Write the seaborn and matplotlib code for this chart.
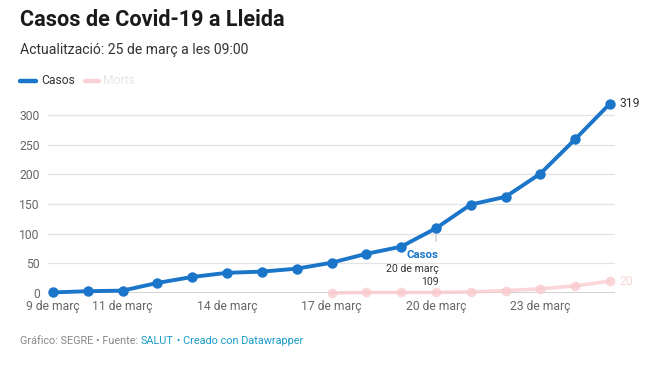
import matplotlib
matplotlib.use("Agg")
import matplotlib.pyplot as plt
import seaborn as sns
import pandas as pd
import numpy as np

days = list(range(9, 26))
casos = [1, 3, 4, 17, 27, 34, 36, 41, 51, 66, 78, 109, 149, 162, 201, 259, 319]
morts_days = list(range(17, 26))
morts = [0, 1, 1, 1, 2, 4, 7, 12, 20]
tick_days = [9, 11, 14, 17, 20, 23]
tick_labels = [f"{d} de març" for d in tick_days]
yticks = [0, 50, 100, 150, 200, 250, 300]

BLUE = "#1b75c9"
PINK = "#f9c9cd"

sns.set_theme(style="white")
plt.rcParams['font.family'] = ['Roboto', 'DejaVu Sans']

df_c = pd.DataFrame({"day": days, "value": casos, "serie": "Casos"})
df_m = pd.DataFrame({"day": morts_days, "value": morts, "serie": "Morts"})

fig = plt.figure(figsize=(6.64, 3.87), dpi=100)
ax = fig.add_axes([48/664, 1-293/387, (615-48)/664, (293-103)/387])

sns.lineplot(data=df_m, x="day", y="value", color=PINK, alpha=0.75, linewidth=2.6,
             marker="o", markersize=7, markeredgewidth=0, ax=ax, clip_on=False, zorder=3)
sns.lineplot(data=df_c, x="day", y="value", color=BLUE, linewidth=2.8,
             marker="o", markersize=7.5, markeredgewidth=0, ax=ax, clip_on=False, zorder=4)

ax.set_xlim(9 - 5/34.8, 25 + 5/34.8)
ax.set_ylim(0, 320)
ax.set_yticks(yticks)
ax.set_yticklabels([str(v) for v in yticks])
ax.set_xticks(tick_days)
ax.set_xticklabels(tick_labels)
ax.tick_params(axis="both", length=0, labelsize=8.7, labelcolor="#666666")
ax.tick_params(axis="y", pad=6)
ax.tick_params(axis="x", pad=5)
ax.set_xlabel("")
ax.set_ylabel("")
for s in ["top", "right", "left", "bottom"]:
    ax.spines[s].set_visible(False)
ax.grid(axis="y", color="#e3e3e3", linewidth=0.9)
ax.set_axisbelow(True)
ax.axhline(0, color="#333333", linewidth=1, zorder=2)
if ax.get_legend():
    ax.get_legend().remove()

# end labels
ax.annotate(str(casos[-1]), (days[-1], casos[-1]), xytext=(7, 0), textcoords="offset points",
            va="center", ha="left", fontsize=8.7, color="#333333")
ax.annotate(str(morts[-1]), (morts_days[-1], morts[-1]), xytext=(7, 0), textcoords="offset points",
            va="center", ha="left", fontsize=8.7, color="#f4d6d8")

# tooltip at 20 March
i = days.index(20)
ax.annotate("", xy=(20, casos[i]), xytext=(20, casos[i] - 27),
            arrowprops=dict(arrowstyle="-", color="#cccccc", lw=1))
ax.annotate("Casos", (20, casos[i]), xytext=(2, -19.5), textcoords="offset points",
            ha="right", va="center", fontsize=8.2, fontweight="bold", color=BLUE)
ax.annotate("20 de març", (20, casos[i]), xytext=(2, -29.5), textcoords="offset points",
            ha="right", va="center", fontsize=7.6, color="#333333")
ax.annotate(str(casos[i]), (20, casos[i]), xytext=(2, -39), textcoords="offset points",
            ha="right", va="center", fontsize=7.6, color="#333333")

# titles
fig.text(20/664, 1-20/387, "Casos de Covid-19 a Lleida", fontsize=15.6, fontweight="bold",
         color="#1a1a1a", va="center", ha="left")
fig.text(20/664, 1-50/387, "Actualització: 25 de març a les 09:00", fontsize=10.1,
         color="#333333", va="center", ha="left")

# legend
fig.add_artist(plt.Line2D([20/664, 36/664], [1-81/387, 1-81/387], color=BLUE, lw=3.2,
                          solid_capstyle="round", transform=fig.transFigure))
fig.text(41/664, 1-81/387, "Casos", fontsize=8.7, color="#333333", va="center", ha="left")
fig.add_artist(plt.Line2D([85/664, 99/664], [1-81/387, 1-81/387], color=PINK, lw=3.2,
                          solid_capstyle="round", transform=fig.transFigure, alpha=0.8))
fig.text(103/664, 1-81/387, "Morts", fontsize=8.7, color="#e6e6e6", va="center", ha="left")

# footer
y_f = 1-341/387
fs = 7.8
t1 = fig.text(20/664, y_f, "Gráfico: SEGRE • Fuente: ", fontsize=fs, color="#888888", va="center", ha="left")
fig.canvas.draw()
r = fig.canvas.get_renderer()
bb = t1.get_window_extent(r)
x2 = bb.x1 / fig.bbox.width
t2 = fig.text(x2, y_f, "SALUT", fontsize=fs, color="#1a9cc7", va="center", ha="left")
bb2 = t2.get_window_extent(r)
x3 = bb2.x1 / fig.bbox.width
t3 = fig.text(x3, y_f, " • Creado con Datawrapper", fontsize=fs, color="#1a9cc7", va="center", ha="left")

fig.savefig("out.png", dpi=100, facecolor="white")
